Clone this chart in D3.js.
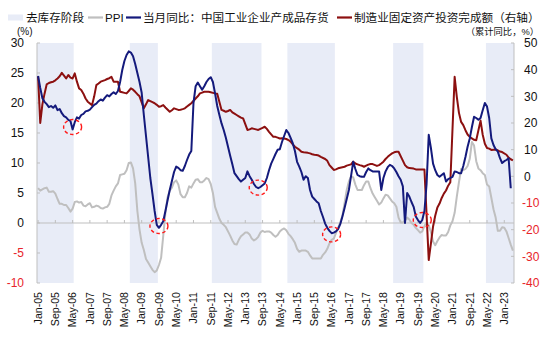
<!DOCTYPE html>
<html><head><meta charset="utf-8">
<script src="https://cdn.jsdelivr.net/npm/d3@7/dist/d3.min.js"></script>
<style>
body{margin:0;background:#fff;}
text{font-family:"Liberation Sans",Arial,"Noto Sans CJK SC",sans-serif;}
.cjk{font-family:"Liberation Sans","Noto Sans CJK SC",sans-serif;}
</style></head>
<body><svg id="c" width="550" height="341"></svg>
<script>
// ---------------- DATA ----------------
const startMonth = "2005-01", endMonth = "2023-05";
// 当月同比：中国工业企业产成品存货 (%), left axis
const inventory = [
 24.5,22.5,20.8,20.2,19.8,19.3,19.5,19.2,19.6,18.8,19.0,18.3,
 17.8,17.6,17.2,17.0,15.6,16.8,17.6,17.4,18.0,18.2,18.6,18.7,
 18.9,19.3,19.7,19.9,20.3,20.6,20.4,20.9,21.3,21.1,21.5,21.8,
 21.5,22.0,23.5,25.5,27.0,28.0,28.6,28.4,27.8,26.5,25.0,23.5,
 21.7,18.0,14.5,11.0,7.5,4.8,2.0,-0.3,-0.8,-0.3,0.3,2.0,
 3.8,5.5,7.0,8.5,9.4,9.2,8.8,8.7,9.5,10.5,11.4,12.0,
 20.0,22.8,23.4,22.8,22.2,22.8,23.5,24.0,24.3,23.5,21.6,19.5,
 18.0,16.6,15.5,14.2,12.7,11.2,9.8,8.3,7.8,7.3,6.9,7.2,
 7.5,8.6,7.8,7.2,6.5,6.0,5.8,6.0,6.3,6.6,7.5,8.8,
 9.9,10.7,11.5,12.2,12.3,13.5,14.5,15.5,15.0,14.2,13.3,12.0,
 10.2,9.4,8.5,7.2,7.8,7.5,5.5,4.4,4.0,3.6,3.3,2.0,
 1.0,-0.1,-0.8,-1.3,-1.7,-1.6,-1.4,-1.0,-0.2,1.1,2.5,4.0,
 5.5,7.8,10.2,9.0,8.0,7.8,7.7,7.7,8.5,9.1,8.8,8.6,
 8.6,8.6,8.6,5.5,7.5,8.6,9.3,9.7,9.5,9.1,8.5,7.8,
 7.2,6.1,0.0,5.0,4.4,3.5,2.7,1.1,0.5,0.0,0.5,2.0,
 6.5,14.7,12.5,9.9,8.8,8.0,7.7,8.0,8.3,6.9,7.3,7.5,
 7.7,8.6,8.5,8.3,8.3,9.5,11.0,12.7,14.1,16.0,17.7,17.5,
 17.2,17.5,18.8,20.0,19.4,17.5,14.1,13.0,12.3,11.9,10.8,10.0,
 10.3,10.5,10.8,5.8,null
];
// PPI 同比 (%), left axis
const ppi = [
 5.8,5.4,5.6,5.8,5.9,5.2,5.2,5.3,4.9,4.0,3.2,3.2,
 3.0,3.0,2.5,1.9,2.4,3.5,3.6,3.4,3.5,2.9,2.8,3.1,
 3.3,2.6,2.7,2.9,2.8,2.5,2.4,2.6,2.7,3.2,4.6,5.4,
 6.1,6.6,8.0,8.1,8.2,8.8,10.0,10.1,9.1,6.6,2.0,-1.1,
 -3.3,-4.5,-6.0,-6.6,-7.2,-7.8,-8.2,-7.9,-7.0,-5.8,-2.1,1.7,
 4.3,5.4,5.9,6.8,7.1,6.4,4.8,4.3,4.3,5.0,6.1,5.9,
 6.6,7.2,7.3,6.8,6.8,7.1,7.5,7.3,6.5,5.0,2.7,1.7,
 0.7,0.0,-0.3,-0.7,-1.4,-2.1,-2.9,-3.5,-3.6,-2.8,-2.2,-1.9,
 -1.6,-1.6,-1.9,-2.6,-2.9,-2.7,-2.3,-1.6,-1.3,-1.5,-1.4,-1.4,
 -1.6,-2.0,-2.3,-2.0,-1.4,-1.1,-0.9,-1.2,-1.8,-2.2,-2.7,-3.3,
 -4.3,-4.8,-4.6,-4.6,-4.6,-4.8,-5.4,-5.9,-5.9,-5.9,-5.9,-5.9,
 -5.3,-4.9,-4.3,-3.4,-2.8,-2.6,-1.7,-0.8,0.1,1.2,3.3,5.5,
 6.9,7.8,7.6,6.4,5.5,5.5,5.5,6.3,6.9,6.9,5.8,4.9,
 4.3,3.7,3.1,3.4,4.1,4.7,4.6,4.1,3.6,3.3,2.7,0.9,
 0.1,0.1,0.4,0.9,0.6,0.0,-0.3,-0.8,-1.2,-1.6,-1.4,-0.5,
 0.1,-0.4,-1.5,-3.1,-3.7,-3.0,-2.4,-2.0,-2.1,-2.1,-1.5,-0.4,
 0.3,1.7,4.4,6.8,9.0,8.8,9.0,9.5,10.7,13.5,12.9,10.3,
 9.1,8.8,8.3,8.0,6.4,6.1,4.2,2.3,0.9,-1.3,-1.3,-0.7,
 -0.8,-1.4,-2.5,-3.6,-4.6
];
// 制造业固定资产投资完成额 累计同比 (%), right axis
const fai = [
 37.5,20.0,27.0,31.0,34.5,35.0,35.3,35.5,36.0,36.7,37.5,38.8,
 null,36.7,38.0,37.0,36.7,38.6,35.5,33.0,32.4,31.0,29.2,28.0,
 null,26.7,30.0,34.2,34.8,35.5,35.8,36.1,36.5,36.8,37.3,35.5,
 null,35.5,31.7,31.5,31.3,31.1,32.0,33.0,32.5,31.7,30.8,30.0,
 null,25.5,27.0,28.6,28.2,27.8,27.4,26.8,26.1,26.3,26.7,25.8,
 null,24.2,24.8,25.5,25.2,24.9,25.0,25.2,25.5,26.2,26.8,27.4,
 null,29.2,30.0,31.1,31.4,31.7,31.7,31.7,31.5,31.3,31.1,31.0,
 null,24.9,24.6,24.2,24.5,24.9,24.0,23.5,23.0,22.5,22.0,21.7,
 null,17.4,17.6,18.0,17.8,17.6,17.4,17.8,18.2,18.6,17.8,16.7,
 null,14.8,14.8,14.5,14.2,14.3,14.2,14.0,13.6,13.0,12.0,11.1,
 null,10.0,9.2,9.0,8.9,8.8,8.6,8.3,8.1,8.0,7.8,7.3,
 null,6.5,5.8,4.2,3.3,2.4,2.6,3.0,3.2,3.4,3.6,4.0,
 null,4.5,5.5,4.8,4.5,4.2,4.0,3.6,4.0,4.4,4.6,4.6,
 null,3.9,4.2,4.8,5.5,6.5,7.3,8.0,8.6,9.0,9.2,9.2,
 null,5.9,4.2,3.4,3.1,3.0,2.9,2.6,2.6,2.6,2.6,2.6,
 null,-31.4,-25.2,-18.8,-14.8,-11.7,-10.2,-8.1,-6.5,-5.3,-3.5,-2.2,
 null,37.3,29.8,23.8,20.4,19.2,17.3,15.7,14.8,14.2,13.7,13.5,
 null,20.9,15.6,12.2,10.6,10.4,9.9,10.0,10.1,9.7,9.3,9.1,
 null,8.1,7.0,6.4,6.0
];
// 去库存阶段 (shaded periods)
const shadeStart = ["2005-01","2008-08","2011-10","2014-09","2018-10","2022-05"];
const shadeEnd   = ["2006-05","2009-08","2013-08","2016-06","2019-11","2023-05"];
// dashed circle annotations (troughs)
const circleMonths = ["2006-05","2009-09","2013-07","2016-05","2019-11"];
const circleValues = [16.0,-0.5,5.9,-1.9,0.5];
// axis ticks
const leftTicks  = [-10,-5,0,5,10,15,20,25,30];
const rightTicks = [-40,-30,-20,-10,0,10,20,30,40,50];
const labelEvery = 8;
// legend labels
const legendLabels = ["去库存阶段","PPI","当月同比：中国工业企业产成品存货","制造业固定资产投资完成额（右轴）"];

// ---------------- CHART ----------------
const colors = {shade:"#E8ECF7", ppi:"#BFBFBF", inv:"#141A7C", fai:"#8C1010", neg:"#E8242B", axis:"#BFBFBF"};
const parse = d3.timeParse("%Y-%m"), key = d3.timeFormat("%Y-%m"), fmt = d3.timeFormat("%b-%y");
const months = d3.timeMonth.range(parse(startMonth), d3.timeMonth.offset(parse(endMonth),1));
const keys = months.map(key);

const L=37, R=514, T=43, B=283;
const x = d3.scaleBand().domain(keys).range([L,R]).padding(0);
const bw = x.bandwidth();
const cx = k => x(k)+bw/2;
const yL = d3.scaleLinear().domain([-10,30]).range([B,T]);
const yR = d3.scaleLinear().domain([-40,50]).range([B,T]);

const svg = d3.select("#c");

// shading
svg.append("g").selectAll("rect").data(shadeStart.map((s,i)=>[s,shadeEnd[i]])).join("rect")
  .attr("x",d=>x(d[0])).attr("width",d=>x(d[1])+bw-x(d[0]))
  .attr("y",T).attr("height",B-T).attr("fill",colors.shade);

// x axis line at 0
const y0 = yL(0);
svg.append("line").attr("x1",L).attr("x2",R).attr("y1",y0).attr("y2",y0)
  .attr("stroke",colors.axis).attr("stroke-width",1);
const labelKeys = keys.filter((k,i)=>i%labelEvery===0);
svg.append("g").selectAll("line").data(labelKeys).join("line")
  .attr("x1",d=>cx(d)).attr("x2",d=>cx(d)).attr("y1",y0-3).attr("y2",y0)
  .attr("stroke",colors.axis);

// x labels
svg.append("g").selectAll("text").data(labelKeys).join("text")
  .attr("transform",d=>`translate(${cx(d)+3.8},292) rotate(-90)`)
  .attr("text-anchor","end").attr("font-size","10.6px").attr("fill","#111")
  .text(d=>fmt(parse(d)));

// left axis
svg.append("line").attr("x1",L).attr("x2",L).attr("y1",T).attr("y2",B).attr("stroke",colors.axis);
svg.append("g").selectAll("line").data(leftTicks).join("line")
  .attr("x1",L).attr("x2",L+3).attr("y1",d=>yL(d)).attr("y2",d=>yL(d)).attr("stroke",colors.axis);
svg.append("g").selectAll("text").data(leftTicks).join("text")
  .attr("x",24).attr("y",d=>yL(d)+4.3).attr("text-anchor","end").attr("font-size","12px")
  .attr("fill",d=>d<0?colors.neg:"#111").text(d=>d);

// right axis
svg.append("line").attr("x1",R).attr("x2",R).attr("y1",T).attr("y2",B).attr("stroke",colors.axis);
svg.append("g").selectAll("line").data(rightTicks).join("line")
  .attr("x1",R-3).attr("x2",R).attr("y1",d=>yR(d)).attr("y2",d=>yR(d)).attr("stroke",colors.axis);
svg.append("g").selectAll("text").data(rightTicks).join("text")
  .attr("x",d=>d<0?522:524).attr("y",d=>yR(d)+4.3).attr("text-anchor","start").attr("font-size","12px")
  .attr("fill",d=>d<0?colors.neg:"#111").text(d=>d);

// unit labels
svg.append("text").attr("x",17).attr("y",35).attr("font-size","10px").attr("fill","#111").text("(%)");
svg.append("text").attr("class","cjk").attr("x",539).attr("y",35).attr("text-anchor","end")
  .attr("font-size","9.3px").attr("fill","#111").text("（累计同比，%）");

// lines
function series(vals){ return keys.map((k,i)=>({k, v:vals[i]})).filter(d=>d.v!==null && d.v!==undefined); }
const drawLine = (vals, y, color, w) => svg.append("path").datum(series(vals))
  .attr("fill","none").attr("stroke",color).attr("stroke-width",w).attr("stroke-linejoin","round")
  .attr("d", d3.line().x(d=>cx(d.k)).y(d=>y(d.v)));
drawLine(ppi, yL, colors.ppi, 2);
drawLine(fai, yR, colors.fai, 2);
drawLine(inventory, yL, colors.inv, 2);

// dashed circles
svg.append("g").selectAll("ellipse").data(circleMonths.map((m,i)=>[m,circleValues[i]])).join("ellipse")
  .attr("cx",d=>cx(d[0])).attr("cy",d=>yL(d[1])).attr("rx",9).attr("ry",7.5)
  .attr("fill","none").attr("stroke","#FF1A1A").attr("stroke-width",1.4).attr("stroke-dasharray","3.5,2.5");

// legend
const lg = svg.append("g").attr("class","cjk").attr("font-size","11.6px").attr("fill","#111");
const ly = 17.5;
lg.append("rect").attr("x",8).attr("y",ly-3).attr("width",15).attr("height",6).attr("fill",colors.shade);
lg.append("text").attr("x",26).attr("y",ly+4.2).text(legendLabels[0]);
const items = [[88,colors.ppi,legendLabels[1]],[126,colors.inv,legendLabels[2]],[337,colors.fai,legendLabels[3]]];
items.forEach(([x0,c,t])=>{
  lg.append("line").attr("x1",x0).attr("x2",x0+15).attr("y1",ly).attr("y2",ly).attr("stroke",c).attr("stroke-width",2.2);
  lg.append("text").attr("x",x0+17).attr("y",ly+4.2).text(t);
});
</script></body></html>
